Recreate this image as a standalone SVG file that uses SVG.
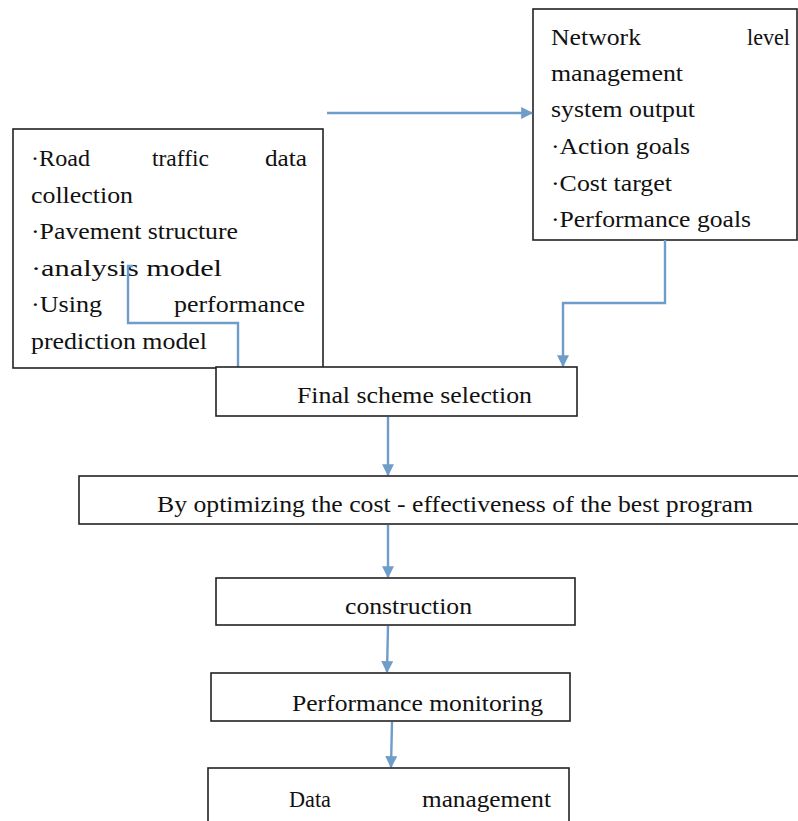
<svg xmlns="http://www.w3.org/2000/svg" width="798" height="821" viewBox="0 0 798 821">
<style>
.box{fill:#fff;stroke:#222;stroke-width:1.6}
.t{font-size:23px;fill:#111}
.ln{fill:none;stroke:#6f9dca;stroke-width:2.4}
</style>
<defs>
<marker id="ah" viewBox="0 0 10 10" refX="9" refY="5" markerWidth="5" markerHeight="5" orient="auto" markerUnits="strokeWidth">
<path d="M0,0 L10,5 L0,10 z" fill="#6f9dca"/>
</marker>
</defs>
<rect width="798" height="821" fill="#fff"/>
<g font-family="Liberation Serif, Times New Roman, serif">
<g id="n-input">
<rect class="box" x="13" y="129" width="310" height="239"/>
<text class="t" x="31" y="166" textLength="59" lengthAdjust="spacingAndGlyphs">·Road</text>
<text class="t" x="152" y="166" textLength="57" lengthAdjust="spacingAndGlyphs">traffic</text>
<text class="t" x="265" y="166" textLength="42" lengthAdjust="spacingAndGlyphs">data</text>
<text class="t" x="31" y="203" textLength="102" lengthAdjust="spacingAndGlyphs">collection</text>
<text class="t" x="31" y="239" textLength="207" lengthAdjust="spacingAndGlyphs">·Pavement structure</text>
<text class="t" x="31" y="276" textLength="191" lengthAdjust="spacingAndGlyphs">·analysis model</text>
<text class="t" x="31" y="312" textLength="71" lengthAdjust="spacingAndGlyphs">·Using</text>
<text class="t" x="174" y="312" textLength="131" lengthAdjust="spacingAndGlyphs">performance</text>
<text class="t" x="31" y="349" textLength="176" lengthAdjust="spacingAndGlyphs">prediction model</text>
</g>
<g id="n-output">
<rect class="box" x="533" y="9" width="264" height="231"/>
<text class="t" x="551" y="45" textLength="90" lengthAdjust="spacingAndGlyphs">Network</text>
<text class="t" x="747" y="45" textLength="43" lengthAdjust="spacingAndGlyphs">level</text>
<text class="t" x="551" y="81" textLength="132" lengthAdjust="spacingAndGlyphs">management</text>
<text class="t" x="551" y="117" textLength="144" lengthAdjust="spacingAndGlyphs">system output</text>
<text class="t" x="551" y="154" textLength="139" lengthAdjust="spacingAndGlyphs">·Action goals</text>
<text class="t" x="551" y="191" textLength="121" lengthAdjust="spacingAndGlyphs">·Cost target</text>
<text class="t" x="551" y="227" textLength="200" lengthAdjust="spacingAndGlyphs">·Performance goals</text>
</g>
<g id="connectors">
<line class="ln" x1="327" y1="113" x2="532" y2="113" marker-end="url(#ah)"/>
<path class="ln" d="M665,240 V303 H563 V366" marker-end="url(#ah)"/>
<path class="ln" d="M238,367 V323 H128 V266 H133"/>
<line class="ln" x1="388" y1="417" x2="388" y2="475" marker-end="url(#ah)"/>
<line class="ln" x1="388" y1="525" x2="388" y2="577" marker-end="url(#ah)"/>
<line class="ln" x1="388" y1="626" x2="387" y2="672" marker-end="url(#ah)"/>
<line class="ln" x1="392" y1="722" x2="391" y2="767" marker-end="url(#ah)"/>
</g>
<g id="n-final">
<rect class="box" x="216" y="367" width="361" height="49"/>
<text class="t" x="297" y="403" textLength="235" lengthAdjust="spacingAndGlyphs">Final scheme selection</text>
</g>
<g id="n-optimize">
<rect class="box" x="79" y="476" width="722" height="48"/>
<text class="t" x="157" y="512" textLength="596" lengthAdjust="spacingAndGlyphs">By optimizing the cost - effectiveness of the best program</text>
</g>
<g id="n-construction">
<rect class="box" x="216" y="578" width="359" height="47"/>
<text class="t" x="345" y="614" textLength="127" lengthAdjust="spacingAndGlyphs">construction</text>
</g>
<g id="n-monitoring">
<rect class="box" x="211" y="673" width="359" height="48"/>
<text class="t" x="292" y="711" textLength="251" lengthAdjust="spacingAndGlyphs">Performance monitoring</text>
</g>
<g id="n-data">
<rect class="box" x="208" y="768" width="361" height="70"/>
<text class="t" x="289" y="807" textLength="42" lengthAdjust="spacingAndGlyphs">Data</text>
<text class="t" x="422" y="807" textLength="129" lengthAdjust="spacingAndGlyphs">management</text>
</g>
</g>
</svg>
